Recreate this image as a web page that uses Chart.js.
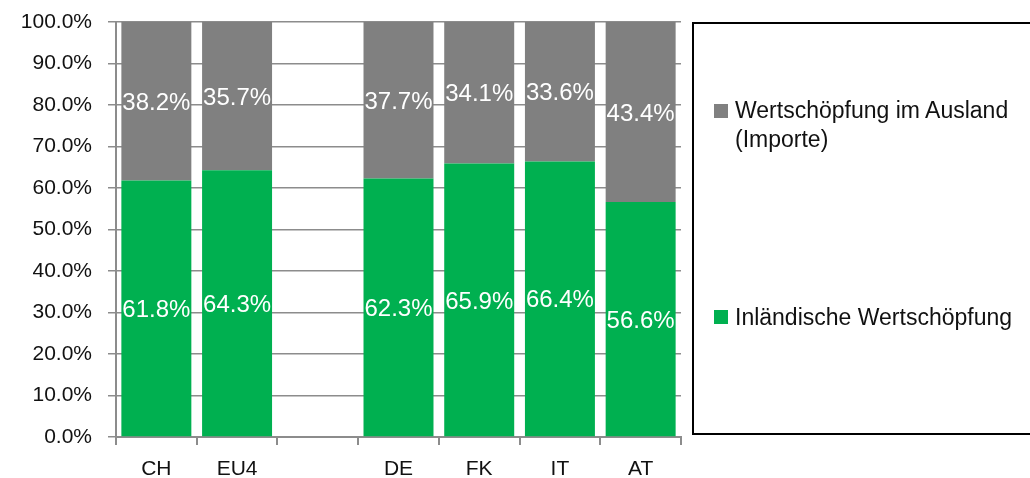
<!DOCTYPE html>
<html>
<head>
<meta charset="utf-8">
<script src="https://cdn.jsdelivr.net/npm/chart.js@4.4.1/dist/chart.umd.min.js"></script>
<style>
  html, body { margin: 0; padding: 0; background: #fff; overflow: hidden; }
  #wrap { position: relative; width: 1030px; height: 478px; }
  #chart { position: absolute; left: 0; top: 0; }
  #legend {
    position: absolute; left: 692px; top: 22px; width: 360px; height: 413px;
    border: 2px solid #000; box-sizing: border-box;
    font-family: "Liberation Sans", Arial, sans-serif; font-size: 23px; color: #111;
  }
  .item { position: absolute; left: 20px; width: 320px; }
  .item i { position: absolute; left: 0; width: 14px; height: 14px; }
  .item span { display: block; margin-left: 21px; line-height: 29px; width: 300px; }
</style>
</head>
<body>
<div id="wrap">
  <canvas id="chart" width="1030" height="478"></canvas>
  <div id="legend"></div>
</div>
<script>
const categories = ['CH', 'EU4', '', 'DE', 'FK', 'IT', 'AT'];
const domestic = [61.8, 64.3, null, 62.3, 65.9, 66.4, 56.6];
const foreign = [38.2, 35.7, null, 37.7, 34.1, 33.6, 43.4];
const yTicks = [0, 10, 20, 30, 40, 50, 60, 70, 80, 90, 100];
const seriesNames = ['Inländische Wertschöpfung', 'Wertschöpfung im Ausland (Importe)'];
const seriesColors = ['#00b050', '#808080'];

const gridGray = '#8c8c8c';
const font = 'Liberation Sans, Arial, sans-serif';

// white value labels in the middle of each segment
const segmentLabels = {
  id: 'segmentLabels',
  afterDatasetsDraw(chart) {
    const ctx = chart.ctx;
    ctx.save();
    ctx.fillStyle = '#fff';
    ctx.font = '24px ' + font;
    ctx.textAlign = 'center';
    ctx.textBaseline = 'middle';
    chart.data.datasets.forEach((ds, i) => {
      chart.getDatasetMeta(i).data.forEach((bar, j) => {
        const v = ds.data[j];
        if (v == null) return;
        const mid = (bar.y + bar.base) / 2;
        ctx.fillText(v.toFixed(1) + '%', bar.x, mid + 2);
      });
    });
    ctx.restore();
  }
};

const chart = new Chart(document.getElementById('chart'), {
  type: 'bar',
  data: {
    labels: categories,
    datasets: [
      { label: seriesNames[0], data: domestic, backgroundColor: seriesColors[0] },
      { label: seriesNames[1], data: foreign, backgroundColor: seriesColors[1] },
    ],
  },
  options: {
    responsive: false,
    animation: false,
    barPercentage: 0.867,
    categoryPercentage: 1,
    layout: { padding: { left: 0, right: 349, top: 22, bottom: 0 } },
    plugins: { legend: { display: false }, tooltip: { enabled: false } },
    scales: {
      x: {
        stacked: true,
        grid: { drawOnChartArea: false, color: gridGray, lineWidth: 2, tickLength: 8, offset: true },
        border: { color: gridGray, width: 2 },
        ticks: { color: '#111', font: { family: font, size: 21 }, padding: 12, maxRotation: 0 },
        afterFit(scale) { scale.height = 41; scale.paddingLeft = 0; scale.paddingRight = 0; },
      },
      y: {
        stacked: true,
        min: 0,
        max: 100,
        afterBuildTicks(scale) { scale.ticks = yTicks.map(v => ({ value: v })); },
        grid: { color: gridGray, lineWidth: 1.5, tickLength: 8 },
        border: { color: gridGray, width: 2 },
        ticks: {
          color: '#111',
          font: { family: font, size: 21 },
          padding: 16,
          callback: v => v.toFixed(1) + '%',
        },
        afterFit(scale) { scale.width = 116; scale.paddingTop = 0; scale.paddingBottom = 0; },
      },
    },
  },
  plugins: [segmentLabels],
});

// legend box on the right, gray series first like the original
const legendTops = [72, 279];
const swatchTops = [80, 286];
const legend = document.getElementById('legend');
chart.data.datasets.slice().reverse().forEach((ds, k) => {
  const item = document.createElement('div');
  item.className = 'item';
  item.style.top = legendTops[k] + 'px';
  item.innerHTML = `<i style="background:${ds.backgroundColor};top:${swatchTops[k] - legendTops[k]}px"></i><span>${ds.label}</span>`;
  legend.appendChild(item);
});
</script>
</body>
</html>
